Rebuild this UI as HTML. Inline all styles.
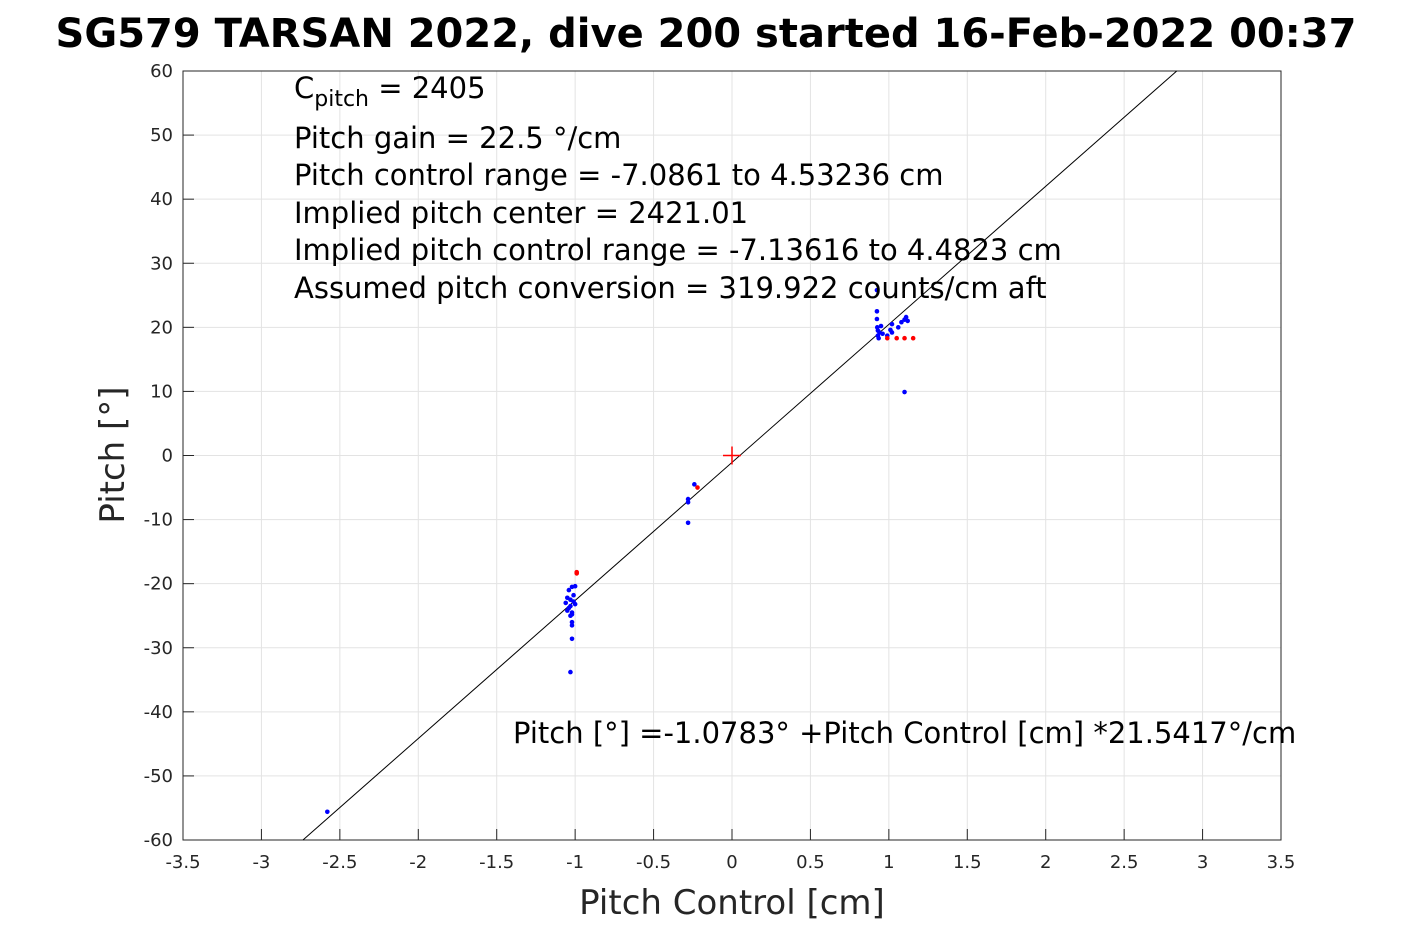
<!DOCTYPE html>
<html><head><meta charset="utf-8"><style>body{margin:0;background:#fff}svg{display:block;font-family:"DejaVu Sans","Liberation Sans",sans-serif}</style></head>
<body>
<svg id="c" width="1417" height="945">
<text x="706" y="47" font-size="40" font-weight="bold" text-anchor="middle">SG579 TARSAN 2022, dive 200 started 16-Feb-2022 00:37</text>
<g id="grid"></g>
<rect x="183" y="71" width="1098" height="769" fill="none" stroke="#262626" stroke-width="1"/>
<g id="marks"></g>
<g font-size="29" fill="#000">
<text x="294" y="98">C<tspan font-size="22" dy="8">pitch</tspan><tspan dy="-8"> = 2405</tspan></text>
<text x="294" y="148">Pitch gain = 22.5 °/cm</text>
<text x="294" y="185">Pitch control range = -7.0861 to 4.53236 cm</text>
<text x="294" y="223">Implied pitch center = 2421.01</text>
<text x="294" y="260">Implied pitch control range = -7.13616 to 4.4823 cm</text>
<text x="294" y="298">Assumed pitch conversion = 319.922 counts/cm aft</text>
<text x="513" y="743">Pitch [°] =-1.0783° +Pitch Control [cm] *21.5417°/cm</text>
</g>
<text x="732" y="914" font-size="34" text-anchor="middle" fill="#262626">Pitch Control [cm]</text>
<text transform="translate(124,455) rotate(-90)" font-size="34" text-anchor="middle" fill="#262626">Pitch [°]</text>
</svg>
<script>
const xTicks=[-3.5,-3,-2.5,-2,-1.5,-1,-0.5,0,0.5,1,1.5,2,2.5,3,3.5];
const yTicks=[-60,-50,-40,-30,-20,-10,0,10,20,30,40,50,60];
const fitIntercept=-1.0783, fitSlope=21.5417;
const blueX=[0.924,0.924,0.924,0.926,0.93,0.93,0.935,0.94,0.95,0.96,0.99,1.01,1.02,1.02,1.06,1.08,1.10,1.11,1.12,1.10,
 -1.05,-1.06,-1.04,-1.03,-1.02,-1.01,-1.0,-1.03,-1.05,-1.02,-1.04,-1.02,-1.01,-1.03,-1.02,-1.02,-1.02,-1.0,-1.03,
 -0.28,-0.28,-0.28,-0.24,-2.58];
const blueY=[25.8,22.5,21.3,20.0,19.5,18.7,18.3,19.2,20.2,19.0,18.7,19.6,20.5,19.2,20.0,20.8,21.2,21.6,21.0,9.9,
 -22.2,-23.0,-23.8,-22.5,-24.5,-21.8,-23.2,-25.0,-24.2,-26.0,-21.0,-20.5,-22.8,-23.5,-24.8,-26.5,-28.6,-20.4,-33.8,
 -6.8,-7.3,-10.5,-4.5,-55.6];
const redX=[0.99,1.05,1.10,1.155,-0.99,-0.99,-0.22];
const redY=[18.3,18.3,18.3,18.3,-18.2,-18.4,-5.0];
const X=v=>732+v*(1098/7), Y=v=>455.5-v*(769/120);
const NS='http://www.w3.org/2000/svg';
const grid=document.getElementById('grid'), marks=document.getElementById('marks');
function mk(tag,attrs,parent){const e=document.createElementNS(NS,tag);for(const k in attrs)e.setAttribute(k,attrs[k]);parent.appendChild(e);return e;}
xTicks.forEach(t=>{
 const l=mk('line',{x1:X(t),x2:X(t),y1:71,y2:840,stroke:'#e3e3e3'},grid);
 
 
 const tk=mk('line',{x1:X(t),x2:X(t),y1:840,y2:829,stroke:'#262626'},grid);
 
 
 const tx=mk('text',{x:X(t),y:868,'font-size':18,'text-anchor':'middle',fill:'#262626'},grid);
 tx.textContent=String(t);
 
 
});
yTicks.forEach(t=>{
 const l=mk('line',{x1:183,x2:1281,y1:Y(t),y2:Y(t),stroke:'#e3e3e3'},grid);
 
 
 const tk=mk('line',{x1:183,x2:194,y1:Y(t),y2:Y(t),stroke:'#262626'},grid);
 
 
 const tx=mk('text',{x:173,y:Y(t)+6,'font-size':18,'text-anchor':'end',fill:'#262626'},grid);
 tx.textContent=String(t);
 
 
});
// fit line clipped to y range
const xa=(-60-fitIntercept)/fitSlope, xb=(60-fitIntercept)/fitSlope;
const fl=mk('line',{x1:X(xa),y1:Y(-60),x2:X(xb),y2:Y(60),stroke:'#000','stroke-width':1},marks);


blueX.forEach((v,i)=>{
 const c=mk('circle',{cx:X(v),cy:Y(blueY[i]),r:2.3,fill:'#0000ff'},marks);
 
 
});
redX.forEach((v,i)=>{
 const c=mk('circle',{cx:X(v),cy:Y(redY[i]),r:2.3,fill:'#ff0000'},marks);
 
 
});
const p=mk('path',{d:`M${X(0)-9} ${Y(0)}H${X(0)+9}M${X(0)} ${Y(0)-9}V${Y(0)+9}`,stroke:'#ff0000','stroke-width':1.5},marks);


</script>
</body></html>
